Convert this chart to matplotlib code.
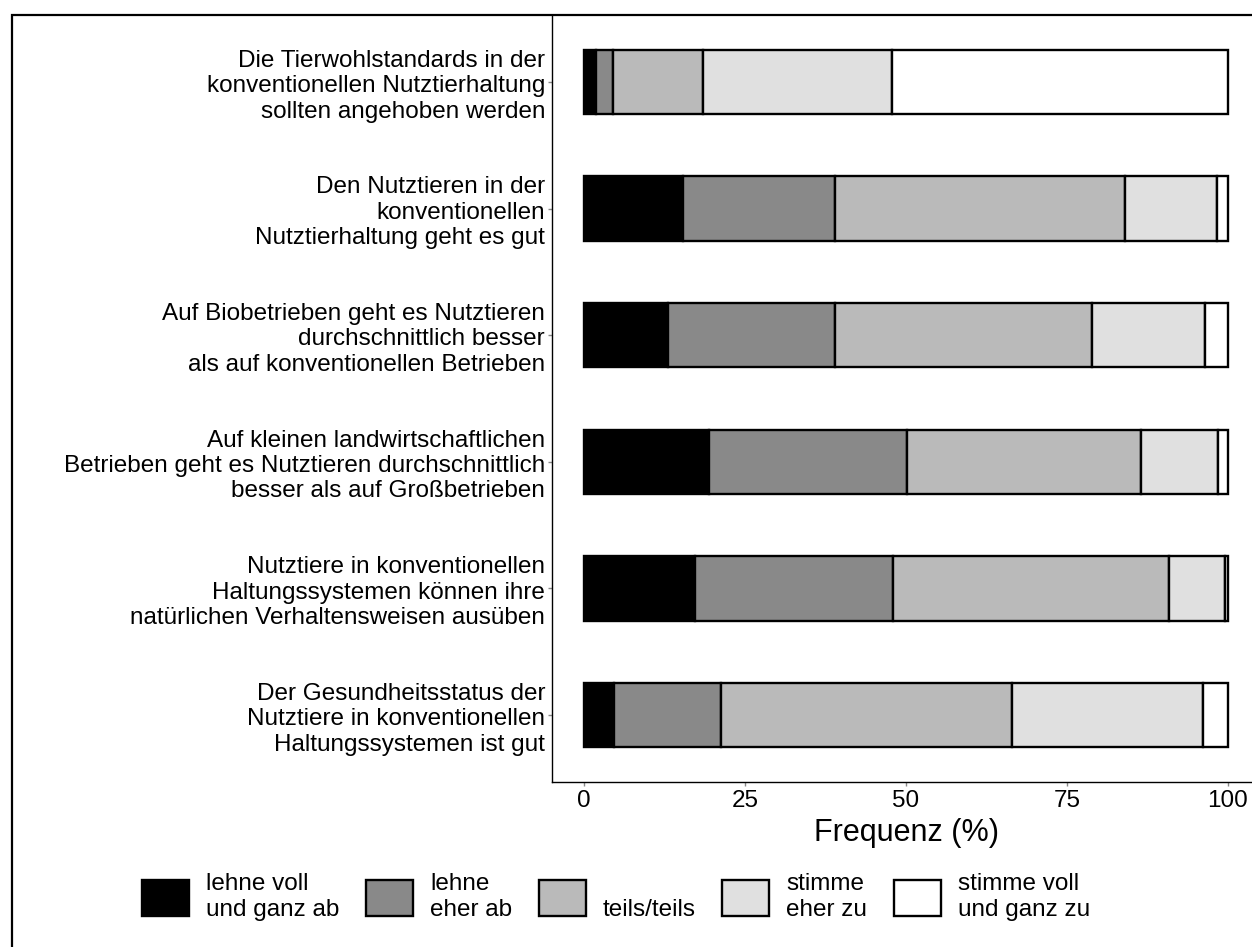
import matplotlib
matplotlib.use("Agg")
import matplotlib.pyplot as plt
import matplotlib.patches as mpatches
import numpy as np

plt.rcParams['font.family'] = ['Liberation Sans', 'DejaVu Sans']

statements = [
    "Die Tierwohlstandards in der\nkonventionellen Nutztierhaltung\nsollten angehoben werden",
    "Den Nutztieren in der\nkonventionellen\nNutztierhaltung geht es gut",
    "Auf Biobetrieben geht es Nutztieren\ndurchschnittlich besser\nals auf konventionellen Betrieben",
    "Auf kleinen landwirtschaftlichen\nBetrieben geht es Nutztieren durchschnittlich\nbesser als auf Großbetrieben",
    "Nutztiere in konventionellen\nHaltungssystemen können ihre\nnatürlichen Verhaltensweisen ausüben",
    "Der Gesundheitsstatus der\nNutztiere in konventionellen\nHaltungssystemen ist gut",
]
levels = ["lehne voll\nund ganz ab", "lehne\neher ab", "\nteils/teils",
          "stimme\neher zu", "stimme voll\nund ganz zu"]
colors = ["#000000", "#898989", "#bababa", "#e0e0e0", "#ffffff"]

lehne_voll = [1.8, 15.4, 13.0, 19.4, 17.2, 4.6]
lehne_eher = [2.7, 23.5, 26.0, 30.8, 30.8, 16.7]
teils = [14.0, 45.1, 39.9, 36.3, 42.9, 45.1]
stimme_eher = [29.4, 14.3, 17.6, 12.0, 8.7, 29.8]
stimme_voll = [52.1, 1.7, 3.5, 1.5, 0.4, 3.8]
series = [lehne_voll, lehne_eher, teils, stimme_eher, stimme_voll]

FS = 17.5
W, H = 1252, 947
fig = plt.figure(figsize=(W / 100, H / 100), dpi=100)
ax = fig.add_axes([552 / W, 1 - 782 / H, (1260 - 552) / W, (782 - 15) / H])

n = len(statements)
ypos = np.arange(n, 0, -1)
left = np.zeros(n)
for vals, col, lab in zip(series, colors, levels):
    vals = np.array(vals)
    ax.barh(ypos, vals, left=left, height=0.51, color=col, edgecolor="black",
            linewidth=1.7, label=lab)
    left += vals

ax.set_xlim(-5, 105)
ax.set_ylim(0.47, 6.53)
ax.set_xticks([0, 25, 50, 75, 100])
ax.set_xticklabels(["0", "25", "50", "75", "100"], fontsize=FS)
ax.set_yticks(ypos)
ax.set_yticklabels(statements, fontsize=FS, linespacing=1.2)
ax.tick_params(axis="both", color="#888888", length=3, width=1)
ax.tick_params(axis="y", pad=2)
ax.tick_params(axis="x", pad=3)
ax.set_xlabel("Frequenz (%)", fontsize=22, labelpad=4)
for s in ["top", "right"]:
    ax.spines[s].set_visible(False)
ax.spines["left"].set_linewidth(1)
ax.spines["bottom"].set_linewidth(1)

handles = [mpatches.Patch(facecolor=c, edgecolor="black", linewidth=1.7) for c in colors]
fig.legend(handles, levels, loc="center", bbox_to_anchor=(616 / W, 1 - 897 / H),
           ncol=5, frameon=False, fontsize=FS, handlelength=1.93, handleheight=1.93,
           handletextpad=0.7, columnspacing=1.1, borderpad=0, borderaxespad=0)

border = mpatches.Rectangle((12 / W, -0.5), 2.0, 0.5 + (1 - 15 / H), transform=fig.transFigure,
                            fill=False, edgecolor="black", linewidth=1.6, clip_on=False)
fig.patches.append(border)

fig.savefig("out.png", dpi=100)
